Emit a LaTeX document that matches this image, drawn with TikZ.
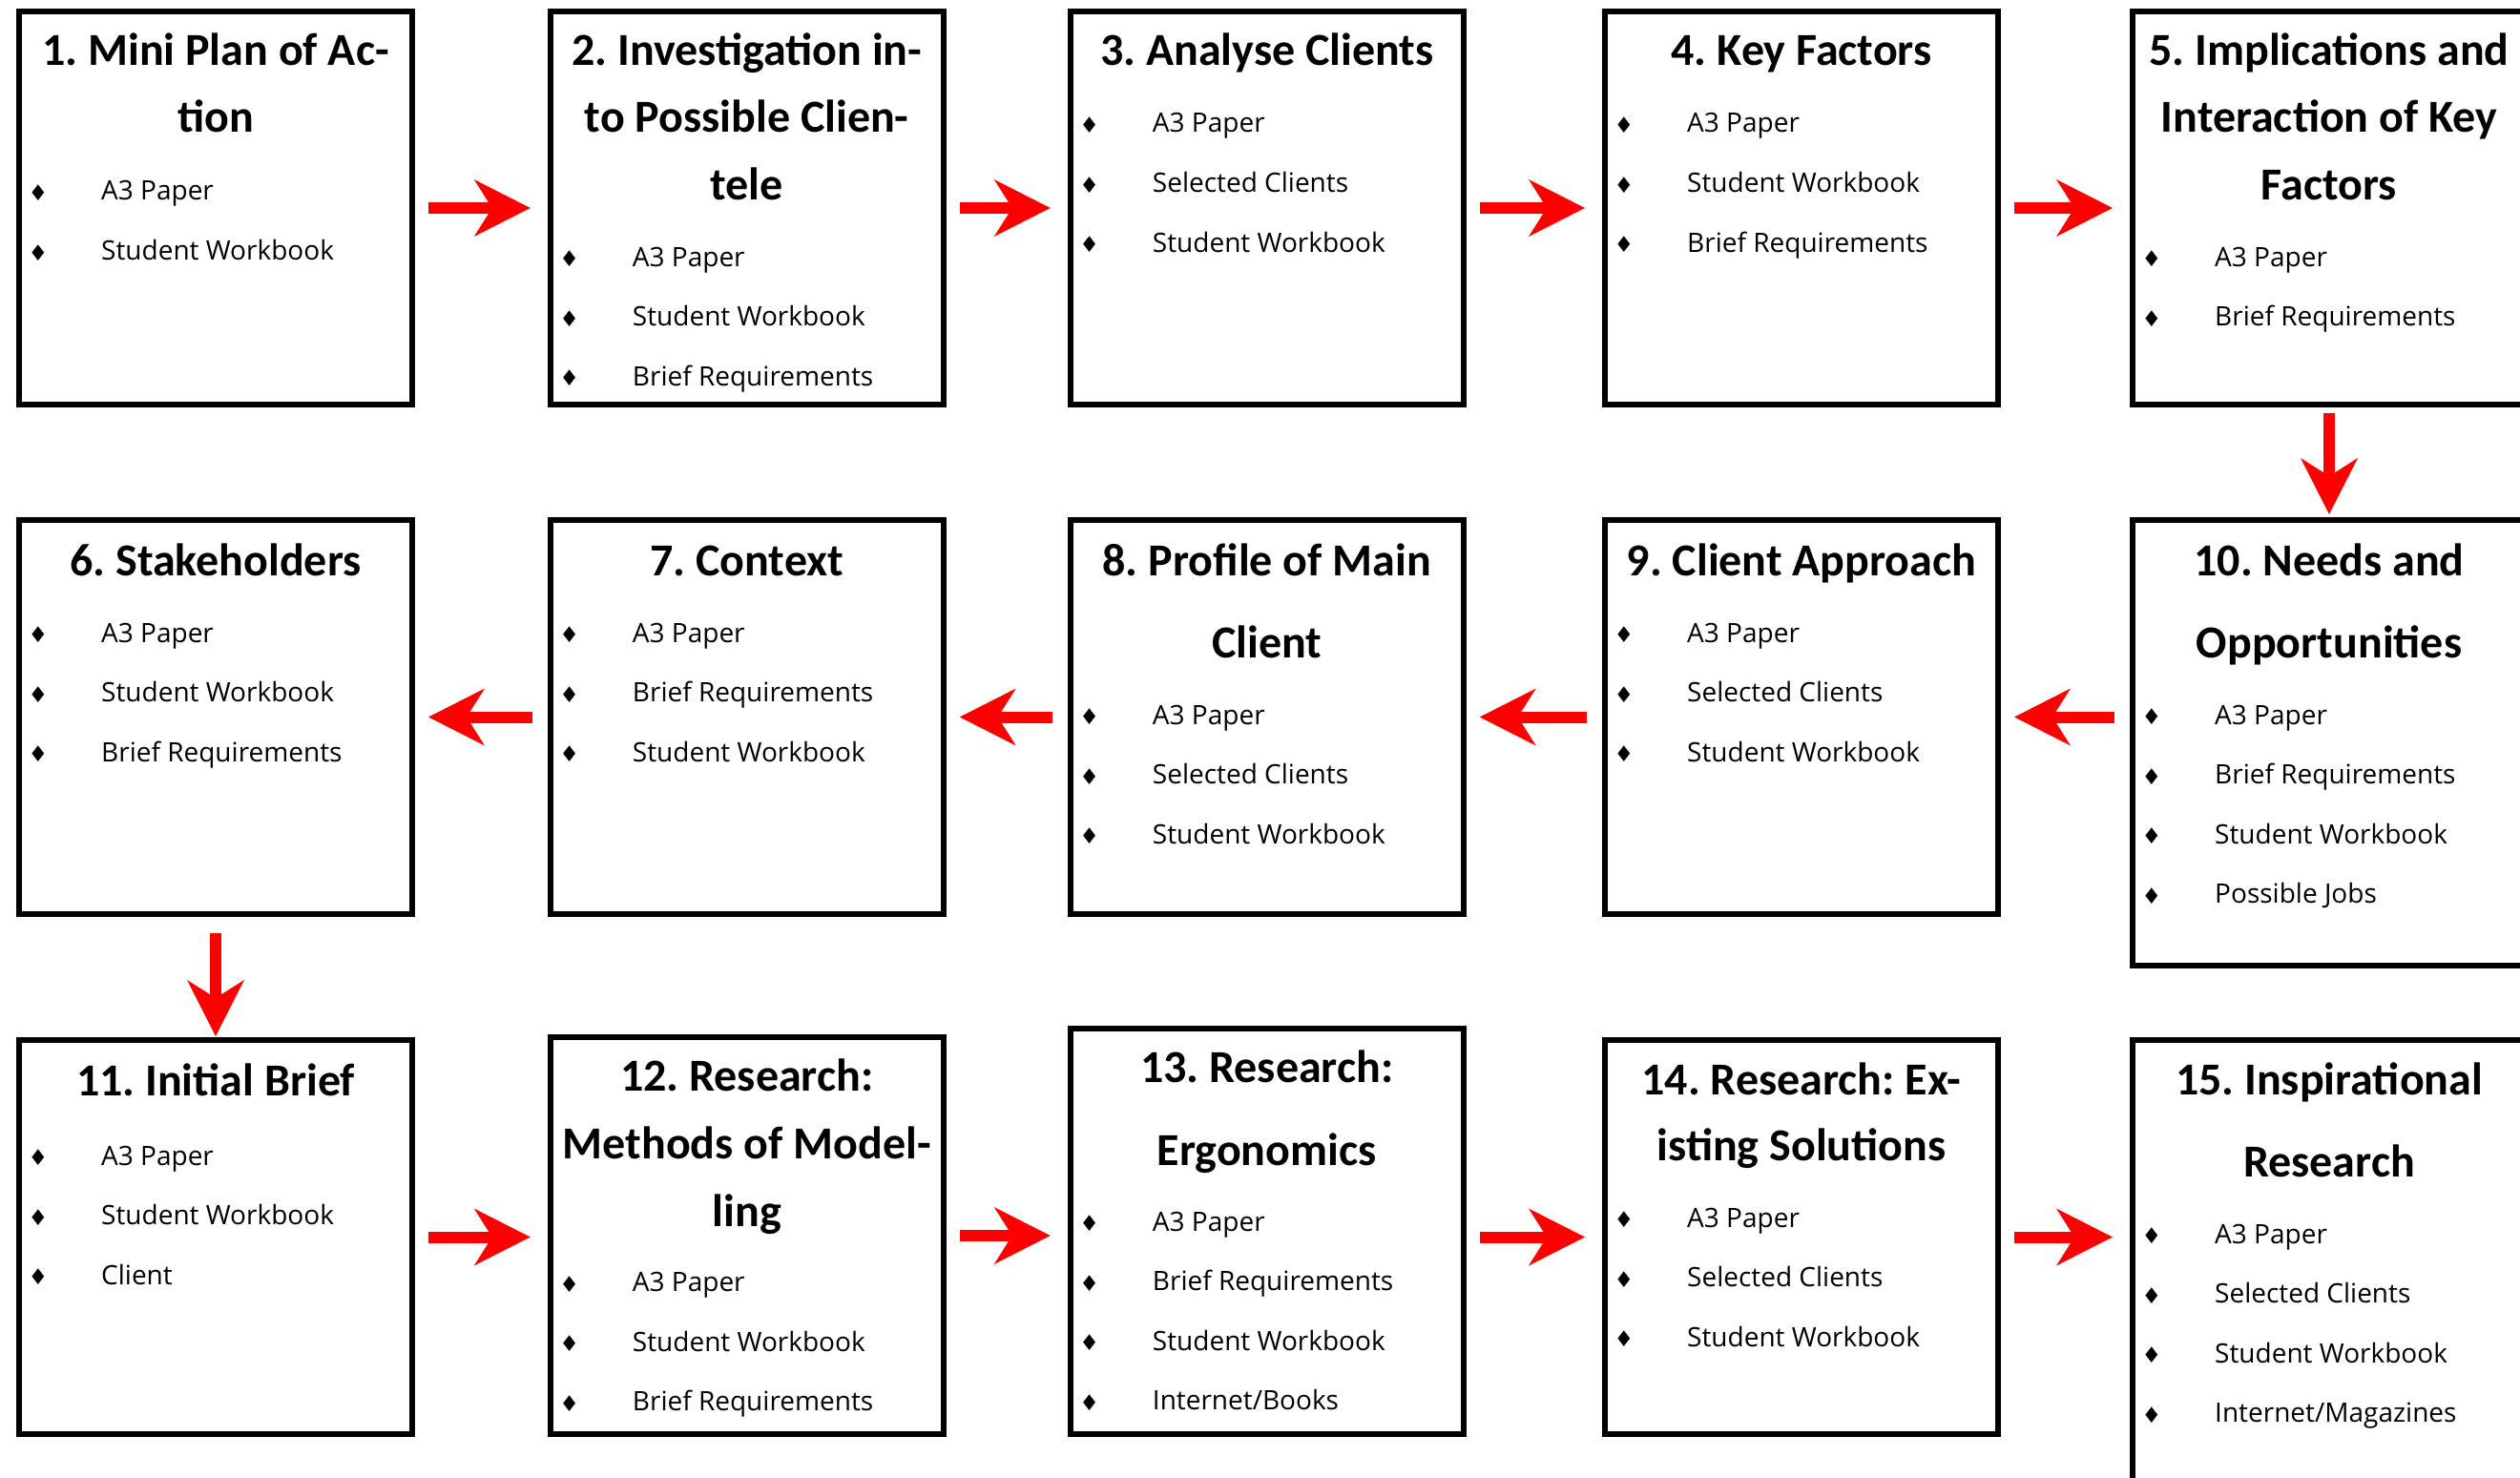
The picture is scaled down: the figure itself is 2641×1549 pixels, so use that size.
\documentclass[tikz,border=0pt]{standalone}
\usepackage{fontspec}
\setmainfont{Open Sans}
\newfontfamily\ttlfont{Carlito}
\newfontfamily\symfont{DejaVu Sans}
\usetikzlibrary{arrows.meta}
\frenchspacing
\tikzset{
  box/.style={draw=black, line width=6pt, fill=white, inner sep=0pt, outer sep=0pt, minimum width=412pt},
  ttl/.style={inner sep=0pt, anchor=base, font=\ttlfont\bfseries\fontsize{48}{58}\selectfont},
  itm/.style={inner sep=0pt, anchor=base west, font=\fontsize{28}{34}\selectfont},
  bul/.style={inner sep=0pt, anchor=center, font=\symfont\fontsize{23}{27}\selectfont},
  rarrow/.style={draw=red, line width=12pt, -{Stealth[length=59pt,width=60pt,inset=19pt,line width=0pt]}},
}
\newcommand\ttl[4]{\node[ttl] (#1) at (#2,#3) {#4};}
\newcommand\itm[4]{\node[bul] (#1d) at (#2+20,#3-7.5) {♦};\node[itm] (#1) at (#2+86,#3) {#4};}
\begin{document}
\begin{tikzpicture}[x=1pt,y=-1pt]
\useasboundingbox (0,0) rectangle (2641,1549);
\fill[white] (0,0) rectangle (2641,1549);
\clip (0,0) rectangle (2641,1549);
% boxes
\node[box, minimum height=412pt] (b1) at (226,218) {};
\node[box, minimum height=412pt] (b2) at (782.75,218) {};
\node[box, minimum height=412pt] (b3) at (1327.75,218) {};
\node[box, minimum height=412pt] (b4) at (1888,218) {};
\node[box, minimum height=412pt] (b5) at (2441,218) {};
\node[box, minimum height=413pt] (b6) at (226,751.5) {};
\node[box, minimum height=413pt] (b7) at (782.75,751.5) {};
\node[box, minimum height=413pt] (b8) at (1327.75,751.5) {};
\node[box, minimum height=413pt] (b9) at (1888,751.5) {};
\node[box, minimum height=467pt] (b10) at (2441,778.5) {};
\node[box, minimum height=413pt] (b11) at (226,1296.5) {};
\node[box, minimum height=416pt] (b12) at (782.75,1295) {};
\node[box, minimum height=425.5pt] (b13) at (1327.75,1290.25) {};
\node[box, minimum height=413pt] (b14) at (1888,1296.5) {};
\node[box, minimum height=510pt] (b15) at (2441,1345) {};
% box 1
\ttl{t1a}{226}{69}{1. Mini Plan of Ac-}
\ttl{t1b}{226}{139}{tion}
\itm{i1a}{20}{210}{A3 Paper}
\itm{i1b}{20}{272.5}{Student Workbook}
% box 2
\ttl{t2a}{782.75}{69}{2. Investigation in-}
\ttl{t2b}{782.75}{139}{to Possible Clien-}
\ttl{t2c}{782.75}{209}{tele}
\itm{i2a}{576.75}{279}{A3 Paper}
\itm{i2b}{576.75}{341.5}{Student Workbook}
\itm{i2c}{576.75}{404}{Brief Requirements}
% box 3
\ttl{t3a}{1327.75}{69}{3. Analyse Clients}
\itm{i3a}{1121.75}{139}{A3 Paper}
\itm{i3b}{1121.75}{201.5}{Selected Clients}
\itm{i3c}{1121.75}{264}{Student Workbook}
% box 4
\ttl{t4a}{1888}{69}{4. Key Factors}
\itm{i4a}{1682}{139}{A3 Paper}
\itm{i4b}{1682}{201.5}{Student Workbook}
\itm{i4c}{1682}{264}{Brief Requirements}
% box 5
\ttl{t5a}{2441}{69}{5. Implications and}
\ttl{t5b}{2441}{139}{Interaction of Key}
\ttl{t5c}{2441}{209}{Factors}
\itm{i5a}{2235}{279}{A3 Paper}
\itm{i5b}{2235}{341.5}{Brief Requirements}
% box 6
\ttl{t6a}{226}{603}{6. Stakeholders}
\itm{i6a}{20}{673}{A3 Paper}
\itm{i6b}{20}{735.5}{Student Workbook}
\itm{i6c}{20}{798}{Brief Requirements}
% box 7
\ttl{t7a}{782.75}{603}{7. Context}
\itm{i7a}{576.75}{673}{A3 Paper}
\itm{i7b}{576.75}{735.5}{Brief Requirements}
\itm{i7c}{576.75}{798}{Student Workbook}
% box 8
\ttl{t8a}{1327.75}{603}{8. Profile of Main}
\ttl{t8b}{1327.75}{689}{Client}
\itm{i8a}{1121.75}{759}{A3 Paper}
\itm{i8b}{1121.75}{821.5}{Selected Clients}
\itm{i8c}{1121.75}{884}{Student Workbook}
% box 9
\ttl{t9a}{1888}{603}{9. Client Approach}
\itm{i9a}{1682}{673}{A3 Paper}
\itm{i9b}{1682}{735.5}{Selected Clients}
\itm{i9c}{1682}{798}{Student Workbook}
% box 10
\ttl{t10a}{2441}{603}{10. Needs and}
\ttl{t10b}{2441}{689}{Opportunities}
\itm{i10a}{2235}{759}{A3 Paper}
\itm{i10b}{2235}{821.5}{Brief Requirements}
\itm{i10c}{2235}{884}{Student Workbook}
\itm{i10d}{2235}{946.5}{Possible Jobs}
% box 11
\ttl{t11a}{226}{1148}{11. Initial Brief}
\itm{i11a}{20}{1221}{A3 Paper}
\itm{i11b}{20}{1283.5}{Student Workbook}
\itm{i11c}{20}{1346}{Client}
% box 12
\ttl{t12a}{782.75}{1143.5}{12. Research:}
\ttl{t12b}{782.75}{1214}{Methods of Model-}
\ttl{t12c}{782.75}{1285}{ling}
\itm{i12a}{576.75}{1353.5}{A3 Paper}
\itm{i12b}{576.75}{1416}{Student Workbook}
\itm{i12c}{576.75}{1478.5}{Brief Requirements}
% box 13
\ttl{t13a}{1327.75}{1134}{13. Research:}
\ttl{t13b}{1327.75}{1221}{Ergonomics}
\itm{i13a}{1121.75}{1290}{A3 Paper}
\itm{i13b}{1121.75}{1352.5}{Brief Requirements}
\itm{i13c}{1121.75}{1415}{Student Workbook}
\itm{i13d}{1121.75}{1477.5}{Internet/Books}
% box 14
\ttl{t14a}{1888}{1147}{14. Research: Ex-}
\ttl{t14b}{1888}{1216.5}{isting Solutions}
\itm{i14a}{1682}{1286}{A3 Paper}
\itm{i14b}{1682}{1348.5}{Selected Clients}
\itm{i14c}{1682}{1411}{Student Workbook}
% box 15
\ttl{t15a}{2441}{1147}{15. Inspirational}
\ttl{t15b}{2441}{1233}{Research}
\itm{i15a}{2235}{1303}{A3 Paper}
\itm{i15b}{2235}{1365.5}{Selected Clients}
\itm{i15c}{2235}{1428}{Student Workbook}
\itm{i15d}{2235}{1490.5}{Internet/Magazines}
% arrows
\draw[rarrow, shorten <=17pt, shorten >=21pt] (b1.east) -- (b2.west);
\draw[rarrow, shorten <=17pt, shorten >=21pt] (b2.east) -- (b3.west);
\draw[rarrow, shorten <=17pt, shorten >=21pt] (b3.east) -- (b4.west);
\draw[rarrow, shorten <=17pt, shorten >=21pt] (b4.east) -- (b5.west);
\draw[rarrow, shorten <=9pt, shorten >=6pt] (b5.south) -- (b10.north);
\draw[rarrow, shorten <=19pt, shorten >=17pt] (b10.west |- b9.east) -- (b9.east);
\draw[rarrow, shorten <=19pt, shorten >=17pt] (b9.west) -- (b8.east);
\draw[rarrow, shorten <=19pt, shorten >=17pt] (b8.west) -- (b7.east);
\draw[rarrow, shorten <=19pt, shorten >=17pt] (b7.west) -- (b6.east);
\draw[rarrow, shorten <=20pt, shorten >=4pt] (b6.south) -- (b11.north);
\draw[rarrow, shorten <=17pt, shorten >=21pt] (b11.east) -- (b12.west |- b11.east);
\draw[rarrow, shorten <=17pt, shorten >=21pt] (b12.east) -- (b13.west |- b12.east);
\draw[rarrow, shorten <=17pt, shorten >=21pt] (b13.east |- b14.west) -- (b14.west);
\draw[rarrow, shorten <=17pt, shorten >=21pt] (b14.east) -- (b15.west |- b14.east);
\end{tikzpicture}
\end{document}
